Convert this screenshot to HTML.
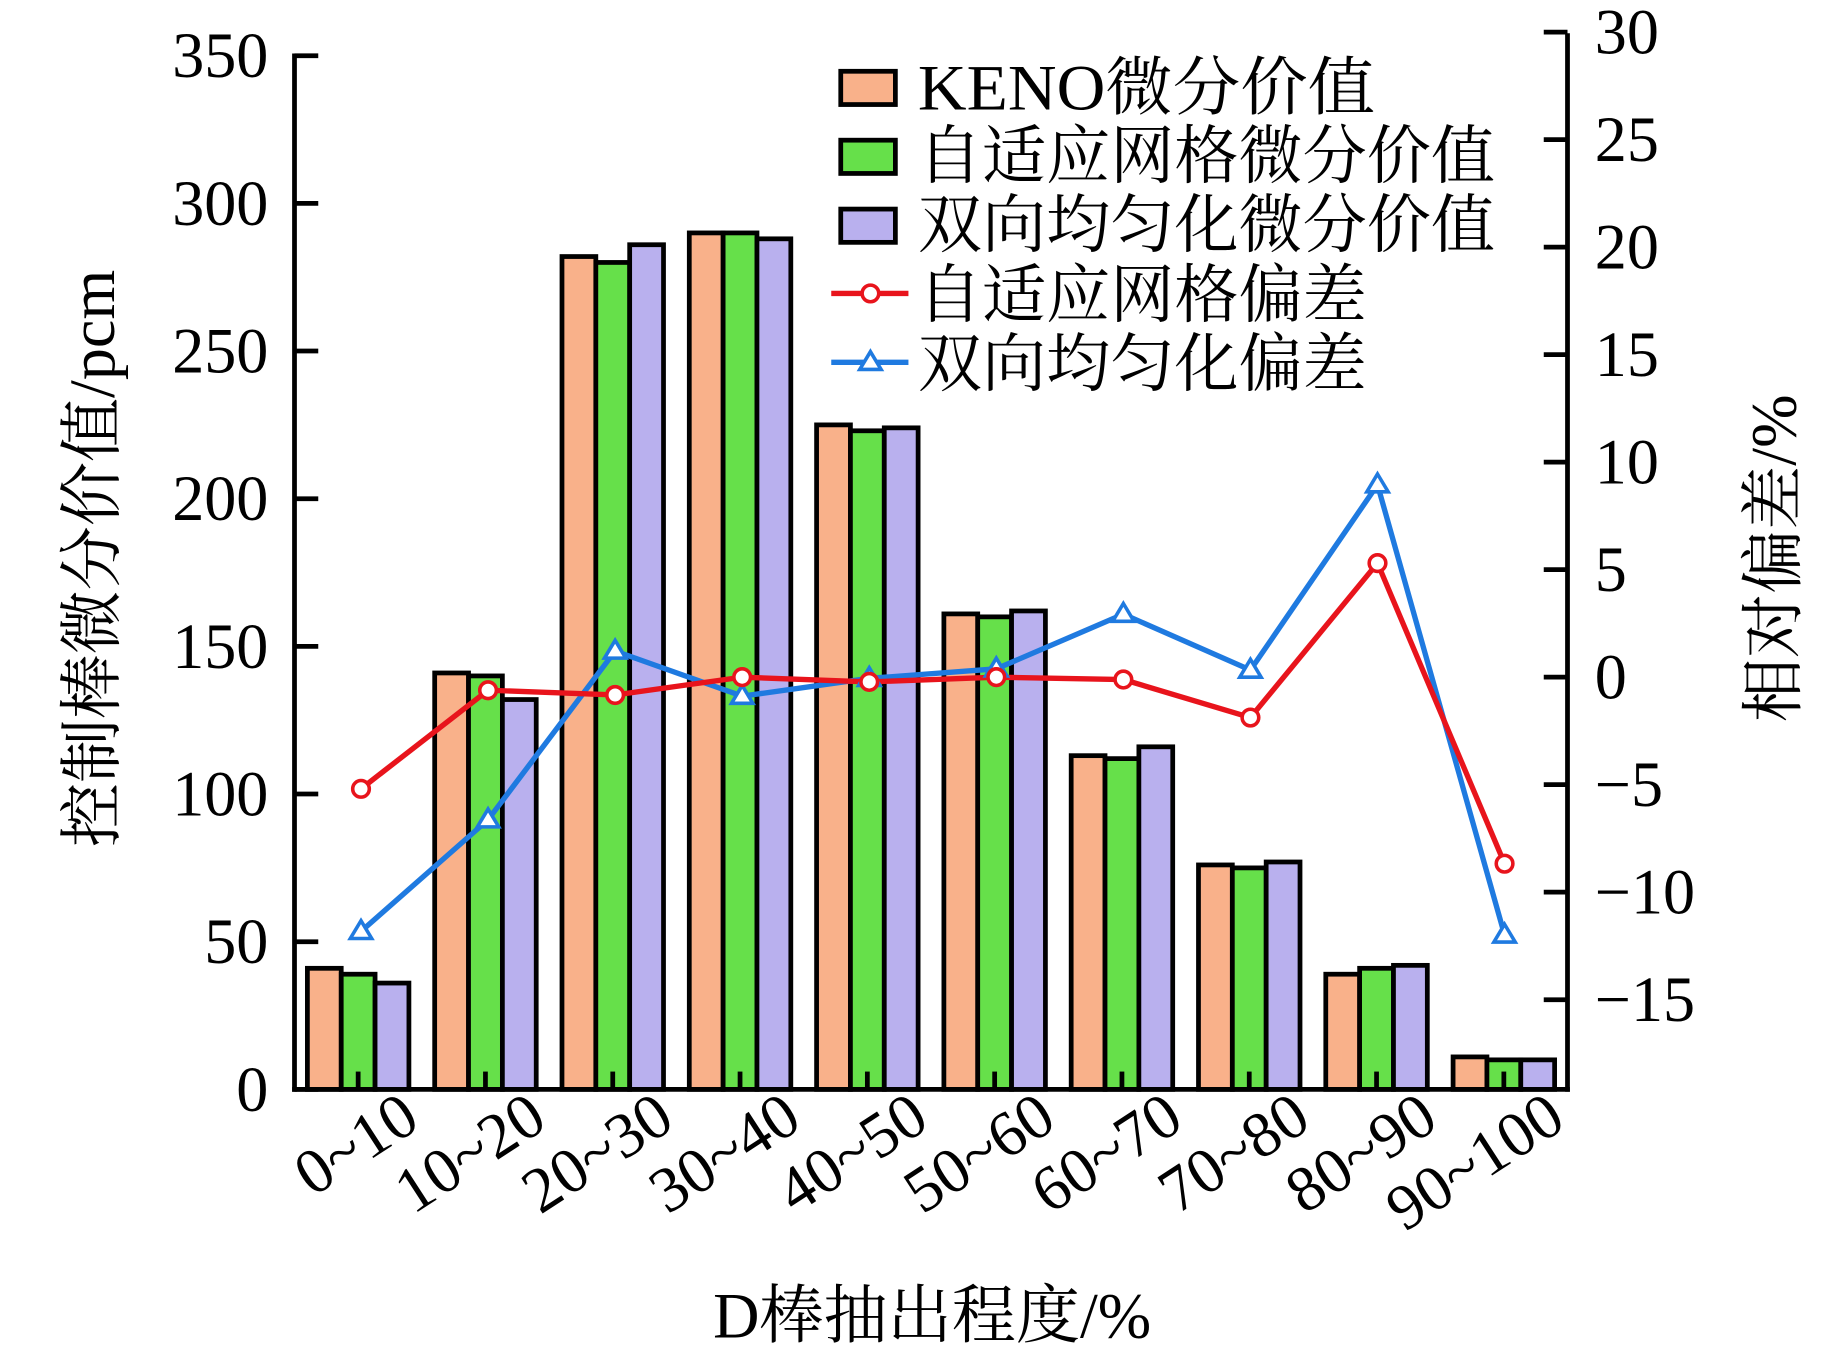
<!DOCTYPE html>
<html><head><meta charset="utf-8"><style>html,body{margin:0;padding:0;background:#fff}svg{display:block}</style></head>
<body>
<svg width="1843" height="1346" viewBox="0 0 1552 1133" preserveAspectRatio="none" xmlns="http://www.w3.org/2000/svg" font-family="'Liberation Serif','Noto Serif CJK SC',serif">
<g id="bars" stroke="#000" stroke-width="4"></g>
<g stroke="#000" stroke-width="4" fill="none">
<line x1="248" y1="45" x2="248" y2="919"/>
<line x1="1320" y1="28" x2="1320" y2="919"/>
<line x1="246" y1="917" x2="1322" y2="917"/>
</g>
<g id="ticks" stroke="#000" stroke-width="4"></g>
<g id="labels" font-size="54" fill="#000"></g>
<polyline fill="none" stroke="#1f7ae0" stroke-width="4.5" points="304,784 411,690 518,548 625,586 732,571 839,563 946,517 1053,564 1160,408 1267,787"/>
<polyline fill="none" stroke="#e8141c" stroke-width="4.5" points="304,664 411,581 518,585 625,570 732,574 839,570 946,572 1053,604 1160,474 1267,727"/>
<g id="mk"></g>
<g stroke="#000" stroke-width="4">
<rect x="708" y="60" width="46" height="28" fill="#f9b18a"/>
<rect x="708" y="118" width="46" height="28" fill="#66e04a"/>
<rect x="708" y="176" width="46" height="28" fill="#b9b0ee"/>
</g>
<line x1="700" y1="247" x2="765" y2="247" stroke="#e8141c" stroke-width="4.5"/>
<circle cx="733" cy="247" r="7" fill="#fff" stroke="#e8141c" stroke-width="3"/>
<line x1="700" y1="305" x2="765" y2="305" stroke="#1f7ae0" stroke-width="4.5"/>
<polygon points="733,296 742,311 724,311" fill="#fff" stroke="#1f7ae0" stroke-width="3"/>
<g font-size="54" fill="#000">
<text x="773" y="92" textLength="385" lengthAdjust="spacingAndGlyphs">KENO微分价值</text>
<text x="773" y="150">自适应网格微分价值</text>
<text x="773" y="208">双向均匀化微分价值</text>
<text x="773" y="267">自适应网格偏差</text>
<text x="773" y="325">双向均匀化偏差</text>
<text x="785" y="1126" text-anchor="middle">D棒抽出程度/%</text>
<text transform="translate(96,470) rotate(-90)" text-anchor="middle">控制棒微分价值/pcm</text>
<text transform="translate(1512,470) rotate(-90)" text-anchor="middle">相对偏差/%</text>
</g>
<script>
var ns="http://www.w3.org/2000/svg";
function el(p,t,a,txt){var e=document.createElementNS(ns,t);for(var k in a)e.setAttribute(k,a[k]);if(txt!=null)e.textContent=txt;document.getElementById(p).appendChild(e);return e;}
var K=[41,141,282,290,225,161,113,76,39,11],G=[39,140,280,290,223,160,112,75,41,10],P=[36,132,286,288,224,162,116,77,42,10];
var cols=["#f9b18a","#66e04a","#b9b0ee"],data=[K,G,P];
function yl(v){return 917-v*2.486;}
var names=["0~10","10~20","20~30","30~40","40~50","50~60","60~70","70~80","80~90","90~100"];
for(var i=0;i<10;i++){var c=248+107.2*(i+0.5);
 for(var j=0;j<3;j++){var x=c-42.75+28.5*j;el("bars","rect",{x:x,y:yl(data[j][i]),width:28.5,height:917-yl(data[j][i]),fill:cols[j]});}
 el("ticks","line",{x1:c,y1:917,x2:c,y2:902});
 el("labels","text",{"text-anchor":"end",transform:"translate("+(c+54)+",948) rotate(-33)"},names[i]);
}
for(var v=0;v<=350;v+=50){var y=yl(v);el("ticks","line",{x1:248,y1:y,x2:268,y2:y});el("labels","text",{x:226,y:y+18,"text-anchor":"end"},String(v));}
for(var r=-15;r<=30;r+=5){var y=570-r*18.1;el("ticks","line",{x1:1300,y1:y,x2:1320,y2:y});el("labels","text",{x:1343,y:y+18},r<0?"\u2212"+(-r):String(r));}
var rx=[304,411,518,625,732,839,946,1053,1160,1267],ry=[664,581,585,570,574,570,572,604,474,727],by=[784,690,548,586,571,563,517,564,408,787];
for(var i=0;i<10;i++){el("mk","polygon",{points:rx[i]+","+(by[i]-9)+" "+(rx[i]+9)+","+(by[i]+6)+" "+(rx[i]-9)+","+(by[i]+6),fill:"#fff",stroke:"#1f7ae0","stroke-width":3});
 el("mk","circle",{cx:rx[i],cy:ry[i],r:7,fill:"#fff",stroke:"#e8141c","stroke-width":3});}
</script>
</svg>
</body></html>
